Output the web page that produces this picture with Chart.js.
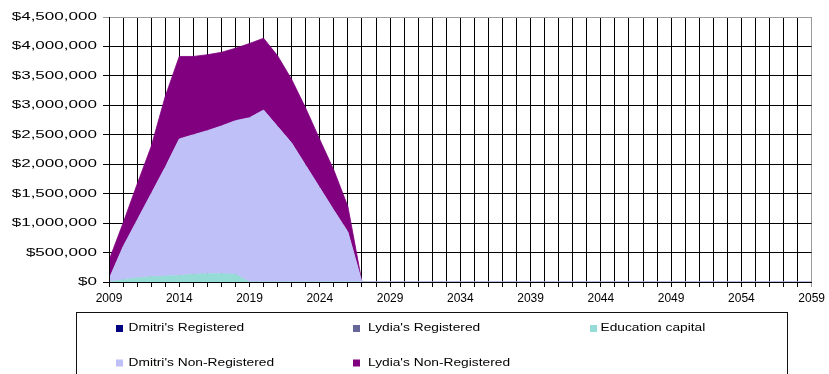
<!DOCTYPE html>
<html>
<head>
<meta charset="utf-8">
<title>Portfolio projection</title>
<script src="https://cdn.jsdelivr.net/npm/chart.js"></script>
<style>
  html, body { margin: 0; padding: 0; background: #fff; }
  #wrap { width: 829px; height: 374px; }
</style>
</head>
<body>
<div id="wrap"><canvas id="chart" width="829" height="374"></canvas></div>
<script>
// Years on the category axis
const years = ['2009','2010','2011','2012','2013','2014','2015','2016','2017','2018',
  '2019','2020','2021','2022','2023','2024','2025','2026','2027','2028',
  '2029','2030','2031','2032','2033','2034','2035','2036','2037','2038',
  '2039','2040','2041','2042','2043','2044','2045','2046','2047','2048',
  '2049','2050','2051','2052','2053','2054','2055','2056','2057','2058','2059'];

// Years that carry a visible tick label
const tickYears = ['2009','2014','2019','2024','2029','2034','2039','2044','2049','2054','2059'];

// Stacked balances, in dollars (bottom of the stack first)
const dmitriRegistered = [0,0,0,0,0,0,0,0,0,0, 0,0,0,0,0,0,0,0,0,0,
  0,0,0,0,0,0,0,0,0,0, 0,0,0,0,0,0,0,0,0,0, 0,0,0,0,0,0,0,0,0,0, 0];
const lydiaRegistered = [0,0,0,0,0,0,0,0,0,0, 0,0,0,0,0,0,0,0,0,0,
  0,0,0,0,0,0,0,0,0,0, 0,0,0,0,0,0,0,0,0,0, 0,0,0,0,0,0,0,0,0,0, 0];
const educationCapital = [0,40000,70000,90000,100000,110000,130000,140000,140000,130000,
  0,0,0,0,0,0,0,0,0,0,
  0,0,0,0,0,0,0,0,0,0, 0,0,0,0,0,0,0,0,0,0, 0,0,0,0,0,0,0,0,0,0, 0];
const dmitriNonRegistered = [50000,560000,980000,1410000,1850000,2320000,2370000,2430000,2510000,2610000,
  2790000,2920000,2640000,2360000,1980000,1600000,1220000,850000,0,0,
  0,0,0,0,0,0,0,0,0,0, 0,0,0,0,0,0,0,0,0,0, 0,0,0,0,0,0,0,0,0,0, 0];
const lydiaNonRegistered = [320000,400000,610000,800000,1200000,1400000,1330000,1290000,1250000,1230000,
  1260000,1220000,1200000,1080000,970000,820000,680000,430000,0,0,
  0,0,0,0,0,0,0,0,0,0, 0,0,0,0,0,0,0,0,0,0, 0,0,0,0,0,0,0,0,0,0, 0];

const seriesNames = ["Dmitri's Registered", "Lydia's Registered", "Education capital",
  "Dmitri's Non-Registered", "Lydia's Non-Registered"];
const seriesColors = ['#000080', '#666699', '#96dcd6', '#c0c0f8', '#800080'];

const FONT = '"Liberation Sans", Arial, sans-serif';
const Y_LABEL_STRETCH = 1.55;
const LEGEND_STRETCH = 1.31;

// Draws the y tick labels widened horizontally, anchored at their right edge
const wideYLabels = {
  id: 'wideYLabels',
  beforeDraw(chart) {
    const s = chart.scales.y;
    if (s._wide) return;
    const orig = s.drawLabels;
    s.drawLabels = function (area) {
      const ctx = this.ctx;
      const ax = this.right - this.options.grid.tickLength - this.options.ticks.padding;
      ctx.save();
      ctx.translate(ax, 0);
      ctx.scale(Y_LABEL_STRETCH, 1);
      ctx.translate(-ax, 0);
      orig.call(this, area);
      ctx.restore();
    };
    s._wide = true;
  }
};

// Boxed legend below the plot, two rows of three columns
const boxLegend = {
  id: 'boxLegend',
  afterDraw(chart) {
    const ctx = chart.ctx;
    const cols = [{m: 116, t: 128.5}, {m: 353, t: 368}, {m: 590, t: 600.5}];
    const rows = [328.5, 363];
    ctx.save();
    ctx.strokeStyle = '#111';
    ctx.lineWidth = 1;
    ctx.strokeRect(76.5, 312.5, 711, 80);
    ctx.font = '10.5px ' + FONT;
    ctx.textBaseline = 'middle';
    ctx.textAlign = 'left';
    chart.data.datasets.forEach((ds, i) => {
      const c = cols[i % 3];
      const y = rows[Math.floor(i / 3)];
      ctx.fillStyle = ds.backgroundColor;
      ctx.fillRect(c.m, y - 3.5, 7, 7);
      ctx.fillStyle = '#000';
      ctx.save();
      ctx.translate(c.t, y);
      ctx.scale(LEGEND_STRETCH, 1);
      ctx.fillText(ds.label, 0, 0);
      ctx.restore();
    });
    ctx.restore();
  }
};

const seriesData = [dmitriRegistered, lydiaRegistered, educationCapital, dmitriNonRegistered, lydiaNonRegistered];

const datasets = seriesData.map((d, i) => ({
  label: seriesNames[i],
  data: d,
  backgroundColor: seriesColors[i],
  borderColor: i < 2 ? 'rgba(0,0,0,0)' : seriesColors[i],
  borderWidth: i < 2 ? 0 : 0.8,
  fill: i === 0 ? 'origin' : '-1',
  pointRadius: 0,
  tension: 0
}));

new Chart(document.getElementById('chart'), {
  type: 'line',
  data: { labels: years, datasets },
  options: {
    responsive: false,
    animation: false,
    devicePixelRatio: 1,
    layout: { padding: { top: 17, right: 14, bottom: 0, left: 0 } },
    plugins: {
      legend: { display: false },
      tooltip: { enabled: false }
    },
    scales: {
      x: {
        type: 'category',
        offset: false,
        afterFit(scale) { scale.height = 92; },
        grid: {
          color: (c) => (c.index === years.length - 1 ? '#9a9a9a' : '#000'),
          lineWidth: 1,
          tickLength: 5,
          offset: false
        },
        border: { color: '#000', z: 1 },
        ticks: {
          autoSkip: false,
          maxRotation: 0,
          minRotation: 0,
          padding: 4,
          color: '#000',
          font: { family: FONT, size: 12 },
          callback(value) {
            const lab = this.getLabelForValue(value);
            return tickYears.includes(lab) ? lab : '';
          }
        }
      },
      y: {
        stacked: true,
        min: 0,
        max: 4500000,
        afterFit(scale) { scale.width = 109; },
        grid: {
          color: (c) => (c.tick && c.tick.value === 4500000 ? '#9a9a9a' : '#000'),
          lineWidth: 1,
          tickLength: 6
        },
        border: { color: '#000', z: 1 },
        ticks: {
          stepSize: 500000,
          padding: 6,
          color: '#000',
          font: { family: FONT, size: 11 },
          callback: (v) => '$' + Number(v).toLocaleString('en-US')
        }
      }
    }
  },
  plugins: [wideYLabels, boxLegend]
});
</script>
</body>
</html>
